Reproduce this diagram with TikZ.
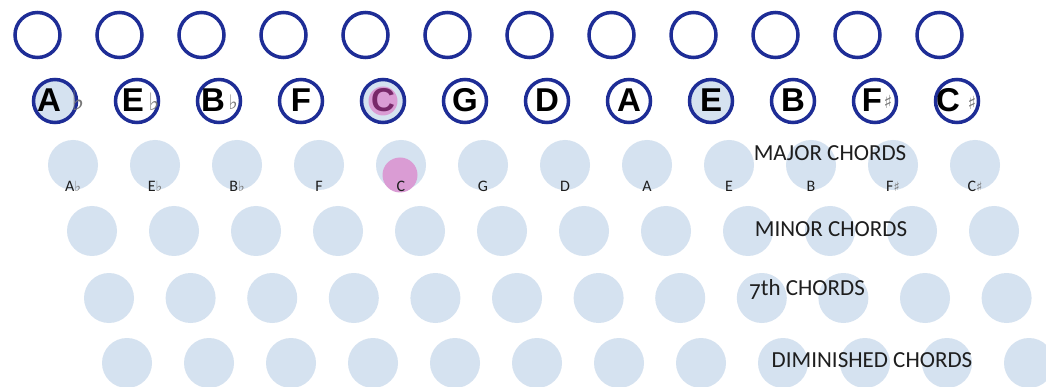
\documentclass[tikz,border=0pt]{standalone}
\usepackage{fontspec}
\setmainfont{Carlito}
\newfontfamily\notefont{Liberation Sans}
\newfontfamily\symfont{DejaVu Sans}
\newfontfamily\lblfont{Carlito}
\definecolor{bdark}{RGB}{30,45,150}
\definecolor{lblue}{RGB}{213,226,240}
\definecolor{pinkc}{RGB}{218,156,212}
\definecolor{purp}{RGB}{120,40,105}
\definecolor{accg}{RGB}{120,120,120}
\definecolor{txtd}{RGB}{30,30,30}
\newcommand{\lflt}{{\symfont\fontsize{14}{14}\selectfont\textcolor{accg}{♭}}}
\newcommand{\lshp}{{\symfont\fontsize{13}{13}\selectfont\textcolor{accg}{♯}}}
\begin{document}
\begin{tikzpicture}[x=1pt,y=-1pt,
  topbtn/.style={circle,draw=bdark,line width=3.5pt,minimum size=45pt,inner sep=0pt,fill=white},
  notebtn/.style={circle,draw=bdark,line width=3.5pt,minimum size=43pt,inner sep=0pt},
  chordbtn/.style={circle,fill=lblue,minimum size=50pt,inner sep=0pt},
  notelet/.style={font=\notefont\bfseries\fontsize{33}{33}\selectfont,inner sep=0pt,anchor=base},
  flatsym/.style={font=\symfont\fontsize{28}{28}\selectfont,text=accg,inner sep=0pt,anchor=base},
  sharpsym/.style={font=\symfont\fontsize{18}{18}\selectfont,text=accg,inner sep=0pt,anchor=base},
  chordlbl/.style={font=\fontsize{16}{16}\selectfont,text=txtd,inner sep=0pt,anchor=base},
  rowlbl/.style={font=\lblfont\fontsize{23}{23}\selectfont,text=txtd,inner sep=0pt}]
\useasboundingbox (0,0) rectangle (1046,387);
\clip (0,0) rectangle (1046,387);
\fill[white] (0,0) rectangle (1046,387);
% row 1: empty buttons
\foreach \i in {0,...,11}
  \node[topbtn] (t\i) at ({37.5+82*\i},35) {};
% row 2: note buttons
\foreach \i/\f in {0/lblue,1/white,2/white,3/white,4/lblue,5/white,6/white,7/white,8/lblue,9/white,10/white,11/white}
  \node[notebtn,fill=\f] (n\i) at ({55+82*\i},101) {};
\node[circle,fill=pinkc,minimum size=29pt,inner sep=0pt] (cpink) at (n4.center) {};
\foreach \i/\L/\dx in {0/A/-6,1/E/-4,2/B/-6,3/F/0,5/G/0,6/D/0,7/A/0,8/E/0,9/B/0,10/F/-3,11/C/-9}
  \node[notelet] (l\i) at ({55+82*\i+\dx},112) {\L};
\node[notelet,text=purp] (l4) at ({55+82*4},112) {C};
\node[flatsym] (a0) at ({55+23},111) {♭};
\node[flatsym,font=\symfont\fontsize{24}{24}\selectfont] (a1) at ({55+82+17},111) {♭};
\node[flatsym,font=\symfont\fontsize{20}{20}\selectfont] (a2) at ({55+164+14},110) {♭};
\node[sharpsym] (a10) at ({55+820+13},109) {♯};
\node[sharpsym] (a11) at ({55+902+15},110) {♯};
% row 3: major chords
\foreach \i in {0,...,11}
  \node[chordbtn] (ma\i) at ({73+82*\i},165) {};
\node[circle,fill=pinkc,minimum size=35pt,inner sep=0pt] (mapink) at ({73+82*4-1},175) {};
\foreach \i/\t in {0/{A\lflt},1/{E\lflt},2/{B\lflt},3/F,4/C,5/G,6/D,7/A,8/E,9/B,10/{F\lshp},11/{C\lshp}}
  \node[chordlbl] (ml\i) at ({73+82*\i},192) {\t};
% row 4: minor chords
\foreach \i in {0,...,11}
  \node[chordbtn] (mi\i) at ({92+82*\i},231) {};
% row 5: 7th chords
\foreach \i in {0,...,11}
  \node[chordbtn] (se\i) at ({109+81.6*\i},298) {};
% row 6: diminished chords
\foreach \i in {0,...,11}
  \node[chordbtn] (di\i) at ({127+82*\i},363) {};
% row labels
\node[rowlbl] (lmaj) at (830,153) {MAJOR CHORDS};
\node[rowlbl] (lmin) at (831,229) {MINOR CHORDS};
\node[rowlbl] (lsev) at (807,290) {\raisebox{-4pt}{7}th CHORDS};
\node[rowlbl] (ldim) at (872,360) {DIMINISHED CHORDS};
\end{tikzpicture}
\end{document}
